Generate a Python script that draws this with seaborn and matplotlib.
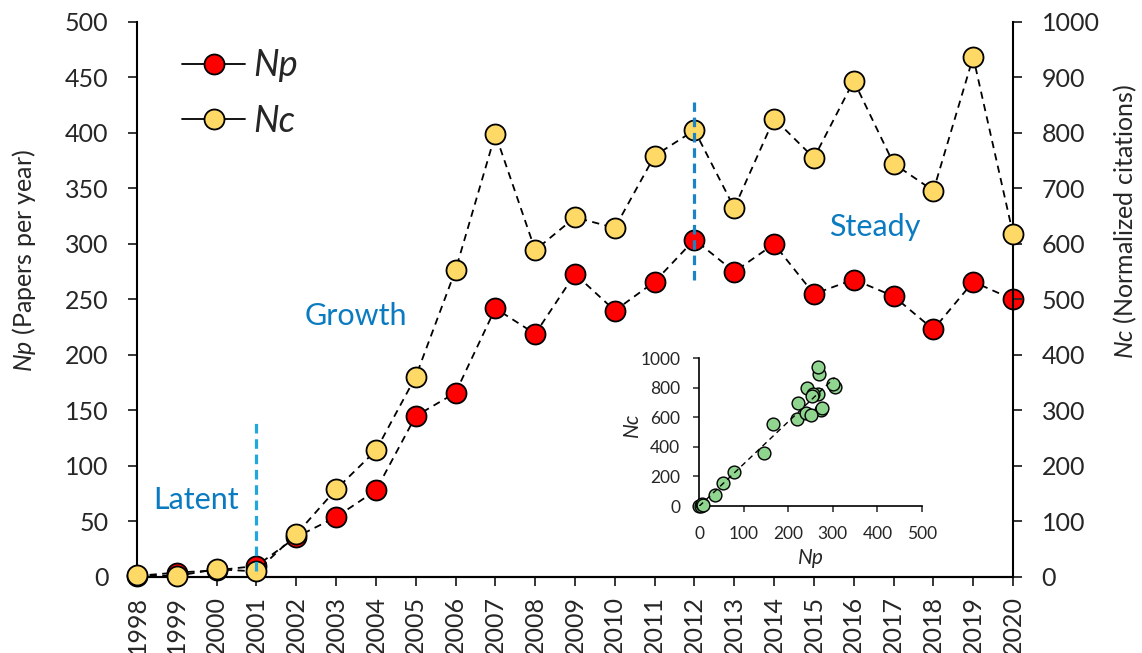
import numpy as np
import matplotlib
matplotlib.use("Agg")
import matplotlib.pyplot as plt
from matplotlib.lines import Line2D
import seaborn as sns

# ---------------- data ----------------
years = [1998, 1999, 2000, 2001, 2002, 2003, 2004, 2005, 2006, 2007, 2008, 2009,
         2010, 2011, 2012, 2013, 2014, 2015, 2016, 2017, 2018, 2019, 2020]
np_vals = [1, 4, 6, 10, 36, 54, 78, 145, 166, 242, 219, 273,
           240, 266, 304, 275, 300, 255, 268, 253, 223, 266, 250]
nc_vals = [3, 2, 14, 10, 77, 158, 228, 361, 553, 798, 589, 648,
           629, 759, 805, 665, 826, 755, 894, 745, 696, 937, 618]
year_labels = [str(y) for y in years]

left_ticks = [0, 50, 100, 150, 200, 250, 300, 350, 400, 450, 500]
right_ticks = [0, 100, 200, 300, 400, 500, 600, 700, 800, 900, 1000]
inset_xticks = [0, 100, 200, 300, 400, 500]
inset_yticks = [0, 200, 400, 600, 800, 1000]

phase_names = ["Latent", "Growth", "Steady"]
phase_x = [1999.48, 2003.5, 2016.53]
phase_y = [69.6, 235, 315]

boundary_years = [2001, 2012]
boundary_low = [5, 268]
boundary_high = [139, 428]
boundary_colors = ["#22A7DD", "#1C84C6"]

# ---------------- style ----------------
sns.set_style("ticks")
plt.rcParams["font.family"] = ["Lato", "DejaVu Sans"]
plt.rcParams["mathtext.fontset"] = "custom"
plt.rcParams["mathtext.rm"] = "Lato"
plt.rcParams["mathtext.it"] = "Lato:italic"

RED = "#FF0000"
YELLOW = "#FFD966"
GREEN = "#8FD48F"
TEXT_BLUE = "#0B7BC1"

fig = plt.figure(figsize=(11.42, 6.53), dpi=100)
ax = fig.add_axes([0.11996, 0.11639, 0.7671, 0.84992])
ax2 = ax.twinx()

line_kw = dict(color="black", lw=1.3, linestyle=(0, (4, 3)), marker="o",
               markersize=14.4, markeredgecolor="black", markeredgewidth=1.3,
               clip_on=False)

sns.lineplot(x=years, y=np_vals, ax=ax, markerfacecolor=RED, zorder=3, **line_kw)
sns.lineplot(x=years, y=nc_vals, ax=ax2, markerfacecolor=YELLOW, zorder=3, **line_kw)

ax.set_xlim(1998, 2020)
ax.set_ylim(0, 500)
ax2.set_ylim(0, 1000)

ax.set_xticks(years)
ax.set_xticklabels(year_labels, rotation=90)
ax.set_yticks(left_ticks)
ax2.set_yticks(right_ticks)

for a in (ax, ax2):
    a.spines["top"].set_visible(False)
    for s in a.spines.values():
        s.set_linewidth(1.5)
        s.set_color("black")
ax2.spines["left"].set_visible(False)
ax.spines["right"].set_visible(False)

ax.tick_params(axis="y", direction="out", length=6.5, width=1.3, labelsize=18, pad=14)
ax.tick_params(axis="x", direction="out", length=6.5, width=1.3, labelsize=18, pad=7)
ax2.tick_params(axis="y", direction="out", length=6.5, width=1.3, labelsize=18, pad=14)

ax.set_ylabel(r"$\it{Np}$ (Papers per year)", fontsize=18, va="center")
ax.yaxis.set_label_coords(-0.129, 0.571)
ax2.set_ylabel(r"$\it{Nc}$ (Normalized citations)", fontsize=18, rotation=90, va="center")
ax2.yaxis.set_label_coords(1.128, 0.64)
ax.set_xlabel("")

# phase annotations
for name, xx, yy in zip(phase_names, phase_x, phase_y):
    ax.text(xx, yy, name, color=TEXT_BLUE, fontsize=22, ha="center", va="center")

# phase boundaries (drawn on top of markers)
for bx, lo, hi, c in zip(boundary_years, boundary_low, boundary_high, boundary_colors):
    ax2.plot([bx, bx], [lo, hi], transform=ax.transData, color=c, lw=2.3,
             linestyle=(0, (3, 1.8)), zorder=6, clip_on=False)

# legend
handles = [
    Line2D([], [], color="black", lw=1.3, marker="o", markersize=14.4,
           markerfacecolor=RED, markeredgecolor="black", markeredgewidth=1.3),
    Line2D([], [], color="black", lw=1.3, marker="o", markersize=14.4,
           markerfacecolor=YELLOW, markeredgecolor="black", markeredgewidth=1.3),
]
leg = ax2.legend(handles, ["Np", "Nc"], loc="center left",
                 bbox_to_anchor=(0.1594, 0.8568), bbox_transform=fig.transFigure,
                 frameon=False, handlelength=1.75, handletextpad=0.22,
                 labelspacing=0.62, borderpad=0, borderaxespad=0,
                 prop={"style": "italic", "size": 26})

# inset
axin = fig.add_axes([0.6121, 0.2251, 0.1953, 0.2266])
axin.patch.set_alpha(0)
sns.scatterplot(x=np_vals, y=nc_vals, ax=axin, color=GREEN, edgecolor="black",
                linewidth=1.0, s=9.2 ** 2, clip_on=False, zorder=3)
fit = np.polyfit(np_vals, nc_vals, 1)
xs = np.array([0.0, float(max(np_vals))])
axin.plot(xs, np.polyval(fit, xs), color="black", lw=1.0, linestyle=(0, (4, 3)), zorder=4)
axin.set_xlim(0, 500)
axin.set_ylim(0, 1000)
axin.set_xticks(inset_xticks)
axin.set_yticks(inset_yticks)
for s in ["top", "right"]:
    axin.spines[s].set_visible(False)
for s in ["left", "bottom"]:
    axin.spines[s].set_linewidth(1.2)
    axin.spines[s].set_color("black")
axin.tick_params(direction="out", length=4.5, width=1.1, labelsize=12.5)
axin.tick_params(axis="x", pad=10)
axin.tick_params(axis="y", pad=9)
axin.set_xlabel("Np", fontsize=15, style="italic", labelpad=4)
axin.set_ylabel("Nc", fontsize=15, style="italic", va="center")
axin.yaxis.set_label_coords(-0.30, 0.55)

fig.savefig("out.png", dpi=100)
